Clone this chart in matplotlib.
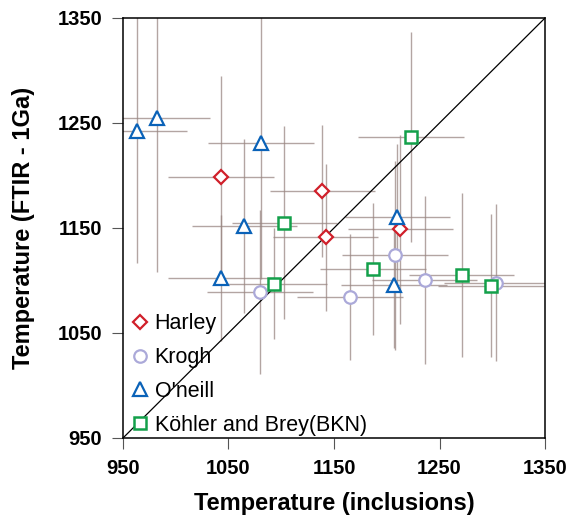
import matplotlib
matplotlib.use('Agg')
import matplotlib.pyplot as plt

plt.rcParams['font.family'] = ['Liberation Sans', 'DejaVu Sans']

# Harley
harley_x = [1043, 1139, 1142, 1213]
harley_y = [1199, 1185, 1141, 1149]
harley_xerr = [50, 50, 50, 50]
harley_yerr = [96, 63, 70, 90]

# Krogh
krogh_x = [1080, 1165, 1208, 1236, 1304]
krogh_y = [1089, 1084, 1124, 1100, 1098]
krogh_xerr = [50, 50, 50, 50, 50]
krogh_yerr = [78, 60, 90, 80, 75]

# O'neill
oneill_x = [963, 982, 1081, 1065, 1043, 1210, 1207]
oneill_y = [1242, 1255, 1231, 1152, 1102, 1160, 1096]
oneill_xerr = [48, 50, 50, 50, 50, 50, 50]
oneill_yerr = [125, 147, 130, 83, 60, 70, 60]

# Koehler and Brey
kohler_x = [1223, 1103, 1093, 1187, 1271, 1299]
kohler_y = [1237, 1155, 1097, 1111, 1105, 1095]
kohler_xerr = [50, 50, 50, 50, 50, 50]
kohler_yerr = [100, 92, 53, 63, 78, 68]

ticks = [950, 1050, 1150, 1250, 1350]

fig = plt.figure(figsize=(5.71, 5.20), dpi=100)
ax = fig.add_axes([0.2154, 0.1577, 0.7391, 0.8077])

err_color = '#9a8783'
for xs, ys, xe, ye in [(harley_x, harley_y, harley_xerr, harley_yerr),
                       (krogh_x, krogh_y, krogh_xerr, krogh_yerr),
                       (oneill_x, oneill_y, oneill_xerr, oneill_yerr),
                       (kohler_x, kohler_y, kohler_xerr, kohler_yerr)]:
    ax.errorbar(xs, ys, xerr=xe, yerr=ye, fmt='none', ecolor=err_color,
                elinewidth=1.0, alpha=0.75, capsize=0, zorder=1)

ax.plot([950, 1350], [950, 1350], color='black', lw=0.9, zorder=2)

ax.plot(harley_x, harley_y, 'D', ms=7.5, mfc='white', mec='#d01f2a', mew=1.6,
        ls='none', label='Harley', zorder=3)
ax.plot(krogh_x, krogh_y, 'o', ms=9, mfc='white', mec='#aba9d9', mew=1.6,
        ls='none', label='Krogh', zorder=3)
ax.plot(oneill_x, oneill_y, '^', ms=10, mfc='white', mec='#0a62b8', mew=1.6,
        ls='none', label="O'neill", zorder=3)
ax.plot(kohler_x, kohler_y, 's', ms=9, mfc='white', mec='#13a04a', mew=1.8,
        ls='none', label='Köhler and Brey(BKN)', zorder=3)

ax.set_xlim(950, 1350)
ax.set_ylim(950, 1350)
ax.set_xticks(ticks)
ax.set_yticks(ticks)
ax.tick_params(direction='out', length=8, width=0.8, color='#555555',
               labelsize=14.5, pad=7)
for lab in ax.get_xticklabels() + ax.get_yticklabels():
    lab.set_fontweight('bold')
for sp in ax.spines.values():
    sp.set_linewidth(1.1)

ax.set_xlabel('Temperature (inclusions)', fontsize=17, fontweight='bold', labelpad=10)
ax.set_ylabel('Temperature (FTIR - 1Ga)', fontsize=17, fontweight='bold', labelpad=16)

ax.legend(loc='lower left', frameon=False, fontsize=15.5, handletextpad=0.2,
          labelspacing=0.6, handlelength=1.0, borderaxespad=0.3,
          bbox_to_anchor=(-0.022, -0.031))

fig.savefig('out.png', dpi=100)
